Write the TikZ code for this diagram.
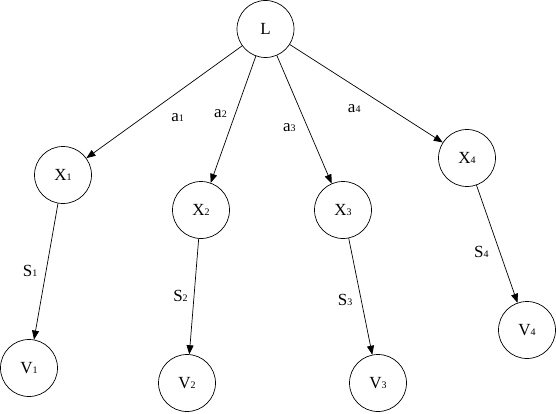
\documentclass[tikz,border=0pt]{standalone}
\usepackage{fontspec}
\setmainfont{Liberation Serif}
\usetikzlibrary{positioning, arrows.meta}
\newcommand{\lbl}[2]{#1{\fontsize{10}{10}\selectfont #2}}

\begin{document}
\begin{tikzpicture}[x=1pt, y=1pt, on grid, line width=0.7pt,
		every node/.style={font=\fontsize{17}{17}\selectfont},
		state/.style={circle, draw, minimum size=57pt, inner sep=0pt},
		link/.style={-{Triangle[length=9pt,width=7pt]}}]
		\useasboundingbox (0,0) rectangle (556,-414);
		\node[state] (L) at (265.5,-29) {L};
			\node[state, below left  =146pt and 202.5pt of L] (X1) {\lbl{X}{1}};
			\node[state, below left  =181pt and 64.5pt of L] (X2) {\lbl{X}{2}};
			\node[state, below right =181pt and 77.5pt of L] (X3) {\lbl{X}{3}};
			\node[state, below right =129pt and 201.5pt of L] (X4) {\lbl{X}{4}};
			\node[state, below left  =193pt and 34pt of X1] (V1) {\lbl{V}{1}};
			\node[state, below left  =173pt and 14pt of X2] (V2) {\lbl{V}{2}};
			\node[state, below right =173pt and 35pt of X3] (V3) {\lbl{V}{3}};
			\node[state, below right =172pt and 60pt of X4] (V4) {\lbl{V}{4}};
		\foreach \from/\to/\ch/\n/\p/\dx/\dy in {L/X1/a/1/0.5/13.3/-15.8, L/X2/a/2/0.45/-15/-0.5,
				L/X3/a/3/0.56/-18.2/-0.6, L/X4/a/4/0.485/-9.7/-16.9,
				X1/V1/S/1/0.49/-16.2/-0.9, X2/V2/S/2/0.5/-13.5/0.5,
				X3/V3/S/3/0.53/-16/0, X4/V4/S/4/0.57/-18.5/0}
			\draw[link] (\from) -- (\to) node[pos=\p, xshift=\dx pt, yshift=\dy pt, inner sep=0pt] (lab\ch\n) {\lbl{\ch}{\n}};
	\end{tikzpicture}
\end{document}
